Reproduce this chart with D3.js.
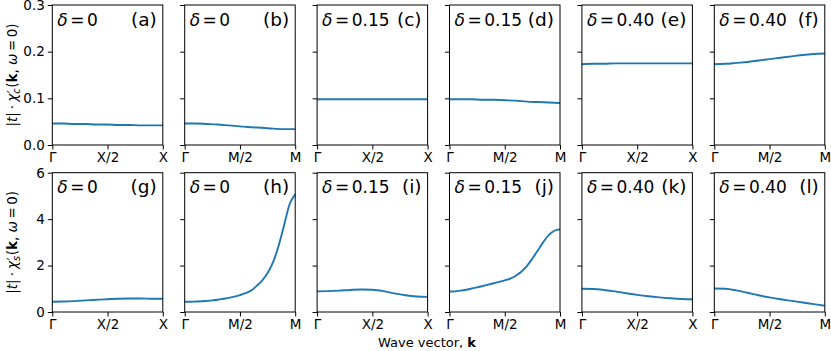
<!DOCTYPE html>
<html>
<head>
<meta charset="utf-8">
<script src="https://cdn.jsdelivr.net/npm/d3@7"></script>
<style>
  body { margin: 0; background: #fff; }
  text { font-family: "DejaVu Sans", sans-serif; fill: #000; }
</style>
</head>
<body>
<div id="chart1"></div>
<script>

// panel letters, doping and path (X or M) per column
var letters = ["a","b","c","d","e","f","g","h","i","j","k","l"];
var deltas = ["0","0","0.15","0.15","0.40","0.40"];
var paths = ["X","M","X","M","X","M"];

// charge susceptibility (top row), sampled from Γ to X or M
var chiC = [
    [0.046,0.046,0.045,0.045,0.044,0.044,0.043,0.043,0.042,0.042,0.042],
    [0.046,0.046,0.045,0.044,0.042,0.040,0.038,0.037,0.035,0.034,0.034],
    [0.098,0.098,0.098,0.098,0.098,0.098,0.098,0.098,0.098,0.098,0.098],
    [0.098,0.098,0.098,0.097,0.097,0.096,0.095,0.093,0.092,0.091,0.090],
    [0.173,0.174,0.174,0.175,0.175,0.175,0.175,0.175,0.175,0.175,0.175],
    [0.173,0.174,0.176,0.178,0.181,0.184,0.187,0.190,0.193,0.195,0.196]
];

// spin susceptibility (bottom row)
var chiS = [
    [0.44,0.45,0.47,0.50,0.53,0.55,0.57,0.58,0.58,0.57,0.57],
    [0.44,0.44,0.45,0.46,0.48,0.50,0.53,0.57,0.61,0.66,0.73,0.81,0.92,1.12,1.35,1.68,2.15,2.85,3.75,4.65,5.07],
    [0.89,0.90,0.92,0.95,0.97,0.96,0.90,0.80,0.72,0.67,0.65],
    [0.88,0.89,0.92,0.96,1.01,1.06,1.12,1.18,1.24,1.30,1.36,1.44,1.56,1.73,1.98,2.30,2.66,3.02,3.32,3.50,3.56],
    [1.00,0.99,0.95,0.89,0.81,0.74,0.68,0.63,0.59,0.56,0.55],
    [1.01,1.00,0.93,0.83,0.72,0.63,0.55,0.48,0.41,0.34,0.27]
];

var topTicks = [0, 0.1, 0.2, 0.3];
var botTicks = [0, 2, 4, 6];

var width = 831, height = 351;
var panelLeft = 52.3, panelStep = 132.4, panelW = 110.5;
var rows = [
    {top: 5, bottom: 145, max: 0.3, ticks: topTicks, fmt: d3.format(".1f"), data: chiC, sub: "c"},
    {top: 172.7, bottom: 312, max: 6, ticks: botTicks, fmt: d3.format("d"), data: chiS, sub: "s"}
];

var svg = d3.select("#chart1")
    .append("svg")
    .attr("width", width)
    .attr("height", height);

var blue = "#1f77b4";
var tickFont = "13.5px";

rows.forEach(function(row, r) {

    var y = d3.scaleLinear().domain([0, row.max]).range([row.bottom, row.top]);

    for (var c = 0; c < 6; c++) {
        var x0 = panelLeft + c * panelStep;
        var x = d3.scaleLinear().domain([0, 1]).range([x0, x0 + panelW]);
        var g = svg.append("g");

        var vals = row.data[c];
        var pts = vals.map(function(v, i) { return [i / (vals.length - 1), v]; });

        var line = d3.line()
            .x(function(d) { return x(d[0]); })
            .y(function(d) { return y(d[1]); })
            .curve(d3.curveMonotoneX);

        g.append("path")
            .attr("d", line(pts))
            .attr("fill", "none")
            .attr("stroke", blue)
            .attr("stroke-width", 1.9);

        // y axis
        var yAxis = d3.axisLeft(y).tickValues(row.ticks).tickSize(4.5).tickPadding(3)
            .tickFormat(c == 0 ? row.fmt : "");
        var ya = g.append("g").attr("transform", "translate(" + x0 + ",0)").call(yAxis);
        ya.select(".domain").remove();
        ya.selectAll("text").style("font-size", tickFont).style("font-family", "DejaVu Sans");

        // x axis
        var p = paths[c];
        var xAxis = d3.axisBottom(x).tickValues([0, 0.5, 1]).tickSize(4.5).tickPadding(2.5)
            .tickFormat(function(d) { return d == 0 ? "Γ" : (d == 0.5 ? p + "/2" : p); });
        var xa = g.append("g").attr("transform", "translate(0," + row.bottom + ")").call(xAxis);
        xa.select(".domain").remove();
        xa.selectAll("text").style("font-size", tickFont).style("font-family", "DejaVu Sans");

        // frame
        g.append("rect")
            .attr("x", x0).attr("y", row.top)
            .attr("width", panelW).attr("height", row.bottom - row.top)
            .attr("fill", "none").attr("stroke", "#000").attr("stroke-width", 1);

        // labels
        var t = g.append("text")
            .attr("x", x0 + 5).attr("y", row.top + 20.5)
            .style("font-size", "17px");
        t.append("tspan").style("font-style", "italic").text("δ");
        t.append("tspan").attr("dx", 2.5).text("=");
        t.append("tspan").attr("dx", 2.5).text(deltas[c]);

        g.append("text")
            .attr("x", x0 + panelW - 6).attr("y", row.top + 20.5)
            .attr("text-anchor", "end")
            .style("font-size", "18.5px")
            .text("(" + letters[r * 6 + c] + ")");
    }

    // y label
    var cy = (row.top + row.bottom) / 2;
    var yl = svg.append("text")
        .attr("transform", "translate(17," + cy + ") rotate(-90)")
        .attr("text-anchor", "middle")
        .style("font-size", "13.5px");
    yl.append("tspan").text("|");
    yl.append("tspan").style("font-style", "italic").text("t");
    yl.append("tspan").text("|");
    yl.append("tspan").attr("dx", 3).text("·");
    yl.append("tspan").attr("dx", 3).style("font-style", "italic").text("χ");
    yl.append("tspan").attr("dx", 0.5).text("′");
    yl.append("tspan").attr("dy", 3).attr("dx", -3.5).style("font-size", "10px").style("font-style", "italic").text(row.sub);
    yl.append("tspan").attr("dy", -3).attr("dx", 0.5).text("(");
    yl.append("tspan").style("font-weight", "bold").text("k");
    yl.append("tspan").text(", ");
    yl.append("tspan").style("font-style", "italic").text("ω");
    yl.append("tspan").attr("dx", 2.5).text("=");
    yl.append("tspan").attr("dx", 2.5).text("0)");
});

var xl = svg.append("text")
    .attr("x", 427).attr("y", 346.5)
    .attr("text-anchor", "middle")
    .style("font-size", "13px");
xl.append("tspan").text("Wave vector, ");
xl.append("tspan").style("font-weight", "bold").text("k");

</script>
</body>
</html>
